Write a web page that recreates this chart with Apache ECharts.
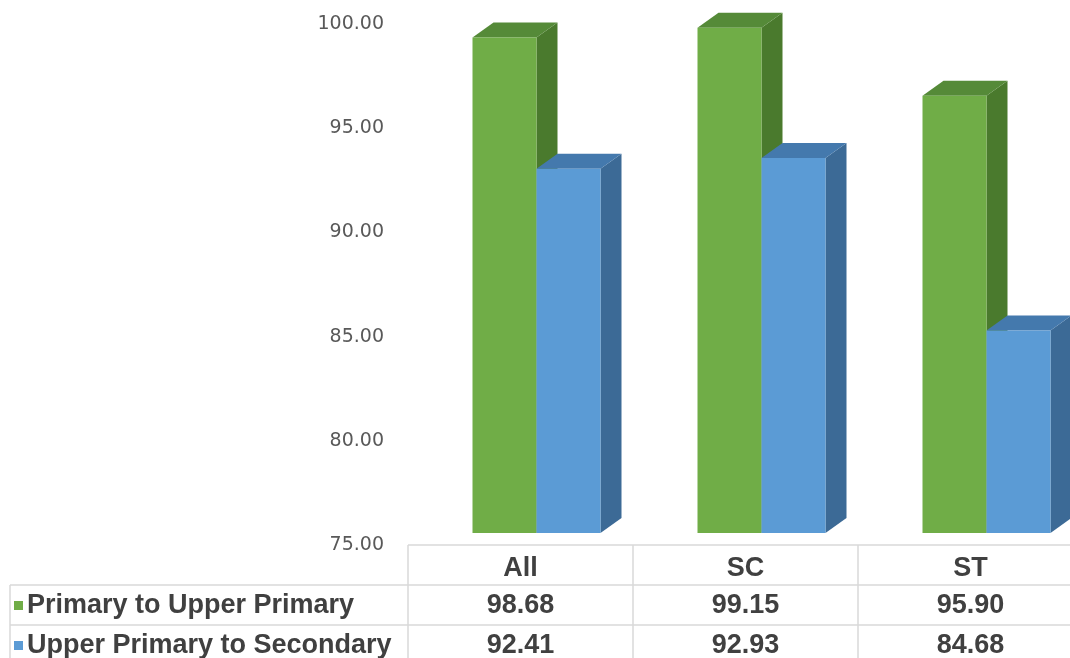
<!DOCTYPE html>
<html>
<head>
<meta charset="utf-8">
<script src="https://cdn.jsdelivr.net/npm/echarts@6/dist/echarts.min.js"></script>
<style>
  html, body { margin: 0; padding: 0; background: #fff; }
  #chart { width: 1070px; height: 658px; }
</style>
</head>
<body>
<div id="chart"></div>
<script>
const categories = ['All', 'SC', 'ST']
const seriesNames = ['Primary to Upper Primary', 'Upper Primary to Secondary']
const primaryToUpper = [98.68, 99.15, 95.9]
const upperToSecondary = [92.41, 92.93, 84.68]
const yTicks = [75, 80, 85, 90, 95, 100]

// colours: front, side, top
const palette = [
  { front: '#70ad47', side: '#4a7a2d', top: '#558a38' },
  { front: '#5b9bd5', side: '#3c6a96', top: '#4479ad' },
]
const BAR_W = 64
const DX = 21
const DY = -15
const BAND = 225 // px per category
const PLOT_LEFT = 424

const chart = echarts.init(document.getElementById('chart'))

function render3d(s) {
  return function (params, api) {
    const cat = api.value(0)
    const val = api.value(1)
    const base = api.coord([cat, yTicks[0]])
    const top = api.coord([cat, val])
    const x0 = base[0] - BAR_W + s * BAR_W
    const x1 = x0 + BAR_W
    const yb = base[1]
    const yt = top[1]
    const c = palette[s]
    return {
      type: 'group',
      children: [
        {
          type: 'polygon',
          shape: { points: [[x1, yt], [x1 + DX, yt + DY], [x1 + DX, yb + DY], [x1, yb]] },
          style: { fill: c.side },
        },
        {
          type: 'polygon',
          shape: { points: [[x0, yt], [x0 + DX, yt + DY], [x1 + DX, yt + DY], [x1, yt]] },
          style: { fill: c.top },
        },
        {
          type: 'rect',
          shape: { x: x0, y: yt, width: BAR_W, height: yb - yt },
          style: { fill: c.front },
        },
      ],
    }
  }
}

// data table below the plot
const lineColor = '#d9d9d9'
const colLeft = 408
const rowTops = [545, 585, 625, 665]
const graphics = []
function hline(x1, x2, y) {
  graphics.push({ type: 'line', shape: { x1: x1, y1: y, x2: x2, y2: y }, style: { stroke: lineColor, lineWidth: 1.5 } })
}
function vline(x, y1, y2) {
  graphics.push({ type: 'line', shape: { x1: x, y1: y1, x2: x, y2: y2 }, style: { stroke: lineColor, lineWidth: 1.5 } })
}
hline(colLeft, 1070, rowTops[0])
hline(10, 1070, rowTops[1])
hline(10, 1070, rowTops[2])
vline(10, rowTops[1], 658)
for (let i = 0; i < categories.length; i++) {
  vline(colLeft + i * BAND, rowTops[0], 658)
}
const cellFont = 'bold 27px "Liberation Sans", Arial, sans-serif'
categories.forEach((name, i) => {
  graphics.push({
    type: 'text',
    x: colLeft + BAND * i + BAND / 2,
    y: (rowTops[0] + rowTops[1]) / 2 + 4,
    style: { text: name, font: cellFont, fill: '#404040', align: 'center', verticalAlign: 'middle' },
  })
})
;[primaryToUpper, upperToSecondary].forEach((vals, r) => {
  const yMid = (rowTops[r + 1] + rowTops[r + 2]) / 2 + 1
  graphics.push({
    type: 'rect',
    shape: { x: 14, y: yMid - 5, width: 9, height: 9 },
    style: { fill: palette[r].front },
  })
  graphics.push({
    type: 'text',
    x: 27,
    y: yMid,
    style: { text: seriesNames[r], font: cellFont, fill: '#404040', align: 'left', verticalAlign: 'middle' },
  })
  vals.forEach((v, i) => {
    graphics.push({
      type: 'text',
      x: colLeft + BAND * i + BAND / 2,
      y: yMid,
      style: { text: v.toFixed(2), font: cellFont, fill: '#404040', align: 'center', verticalAlign: 'middle' },
    })
  })
})

chart.setOption({
  animation: false,
  backgroundColor: '#fff',
  grid: [
    { left: PLOT_LEFT, top: 10, right: 0, height: 523 },
    { left: 390, top: 24, width: 20, height: 521 },
  ],
  xAxis: [
    // category positions 0,1,2 on a value axis so each band is BAND px wide
    { gridIndex: 0, type: 'value', min: -0.5, max: -0.5 + (1070 - PLOT_LEFT) / BAND, show: false },
    { gridIndex: 1, type: 'value', show: false },
  ],
  yAxis: [
    { gridIndex: 0, type: 'value', min: 75, max: 100, interval: 5, show: false },
    {
      gridIndex: 1,
      type: 'value',
      min: 75,
      max: 100,
      interval: 5,
      axisLine: { show: false },
      axisTick: { show: false },
      splitLine: { show: false },
      axisLabel: {
        margin: 6,
        color: '#595959',
        fontSize: 19,
        fontFamily: '"DejaVu Sans", sans-serif',
        formatter: (v) => v.toFixed(2),
      },
    },
  ],
  series: [primaryToUpper, upperToSecondary].map((vals, s) => ({
    type: 'custom',
    name: seriesNames[s],
    xAxisIndex: 0,
    yAxisIndex: 0,
    clip: false,
    renderItem: render3d(s),
    data: vals.map((v, i) => [i, v]),
  })),
  graphic: graphics,
})
</script>
</body>
</html>
